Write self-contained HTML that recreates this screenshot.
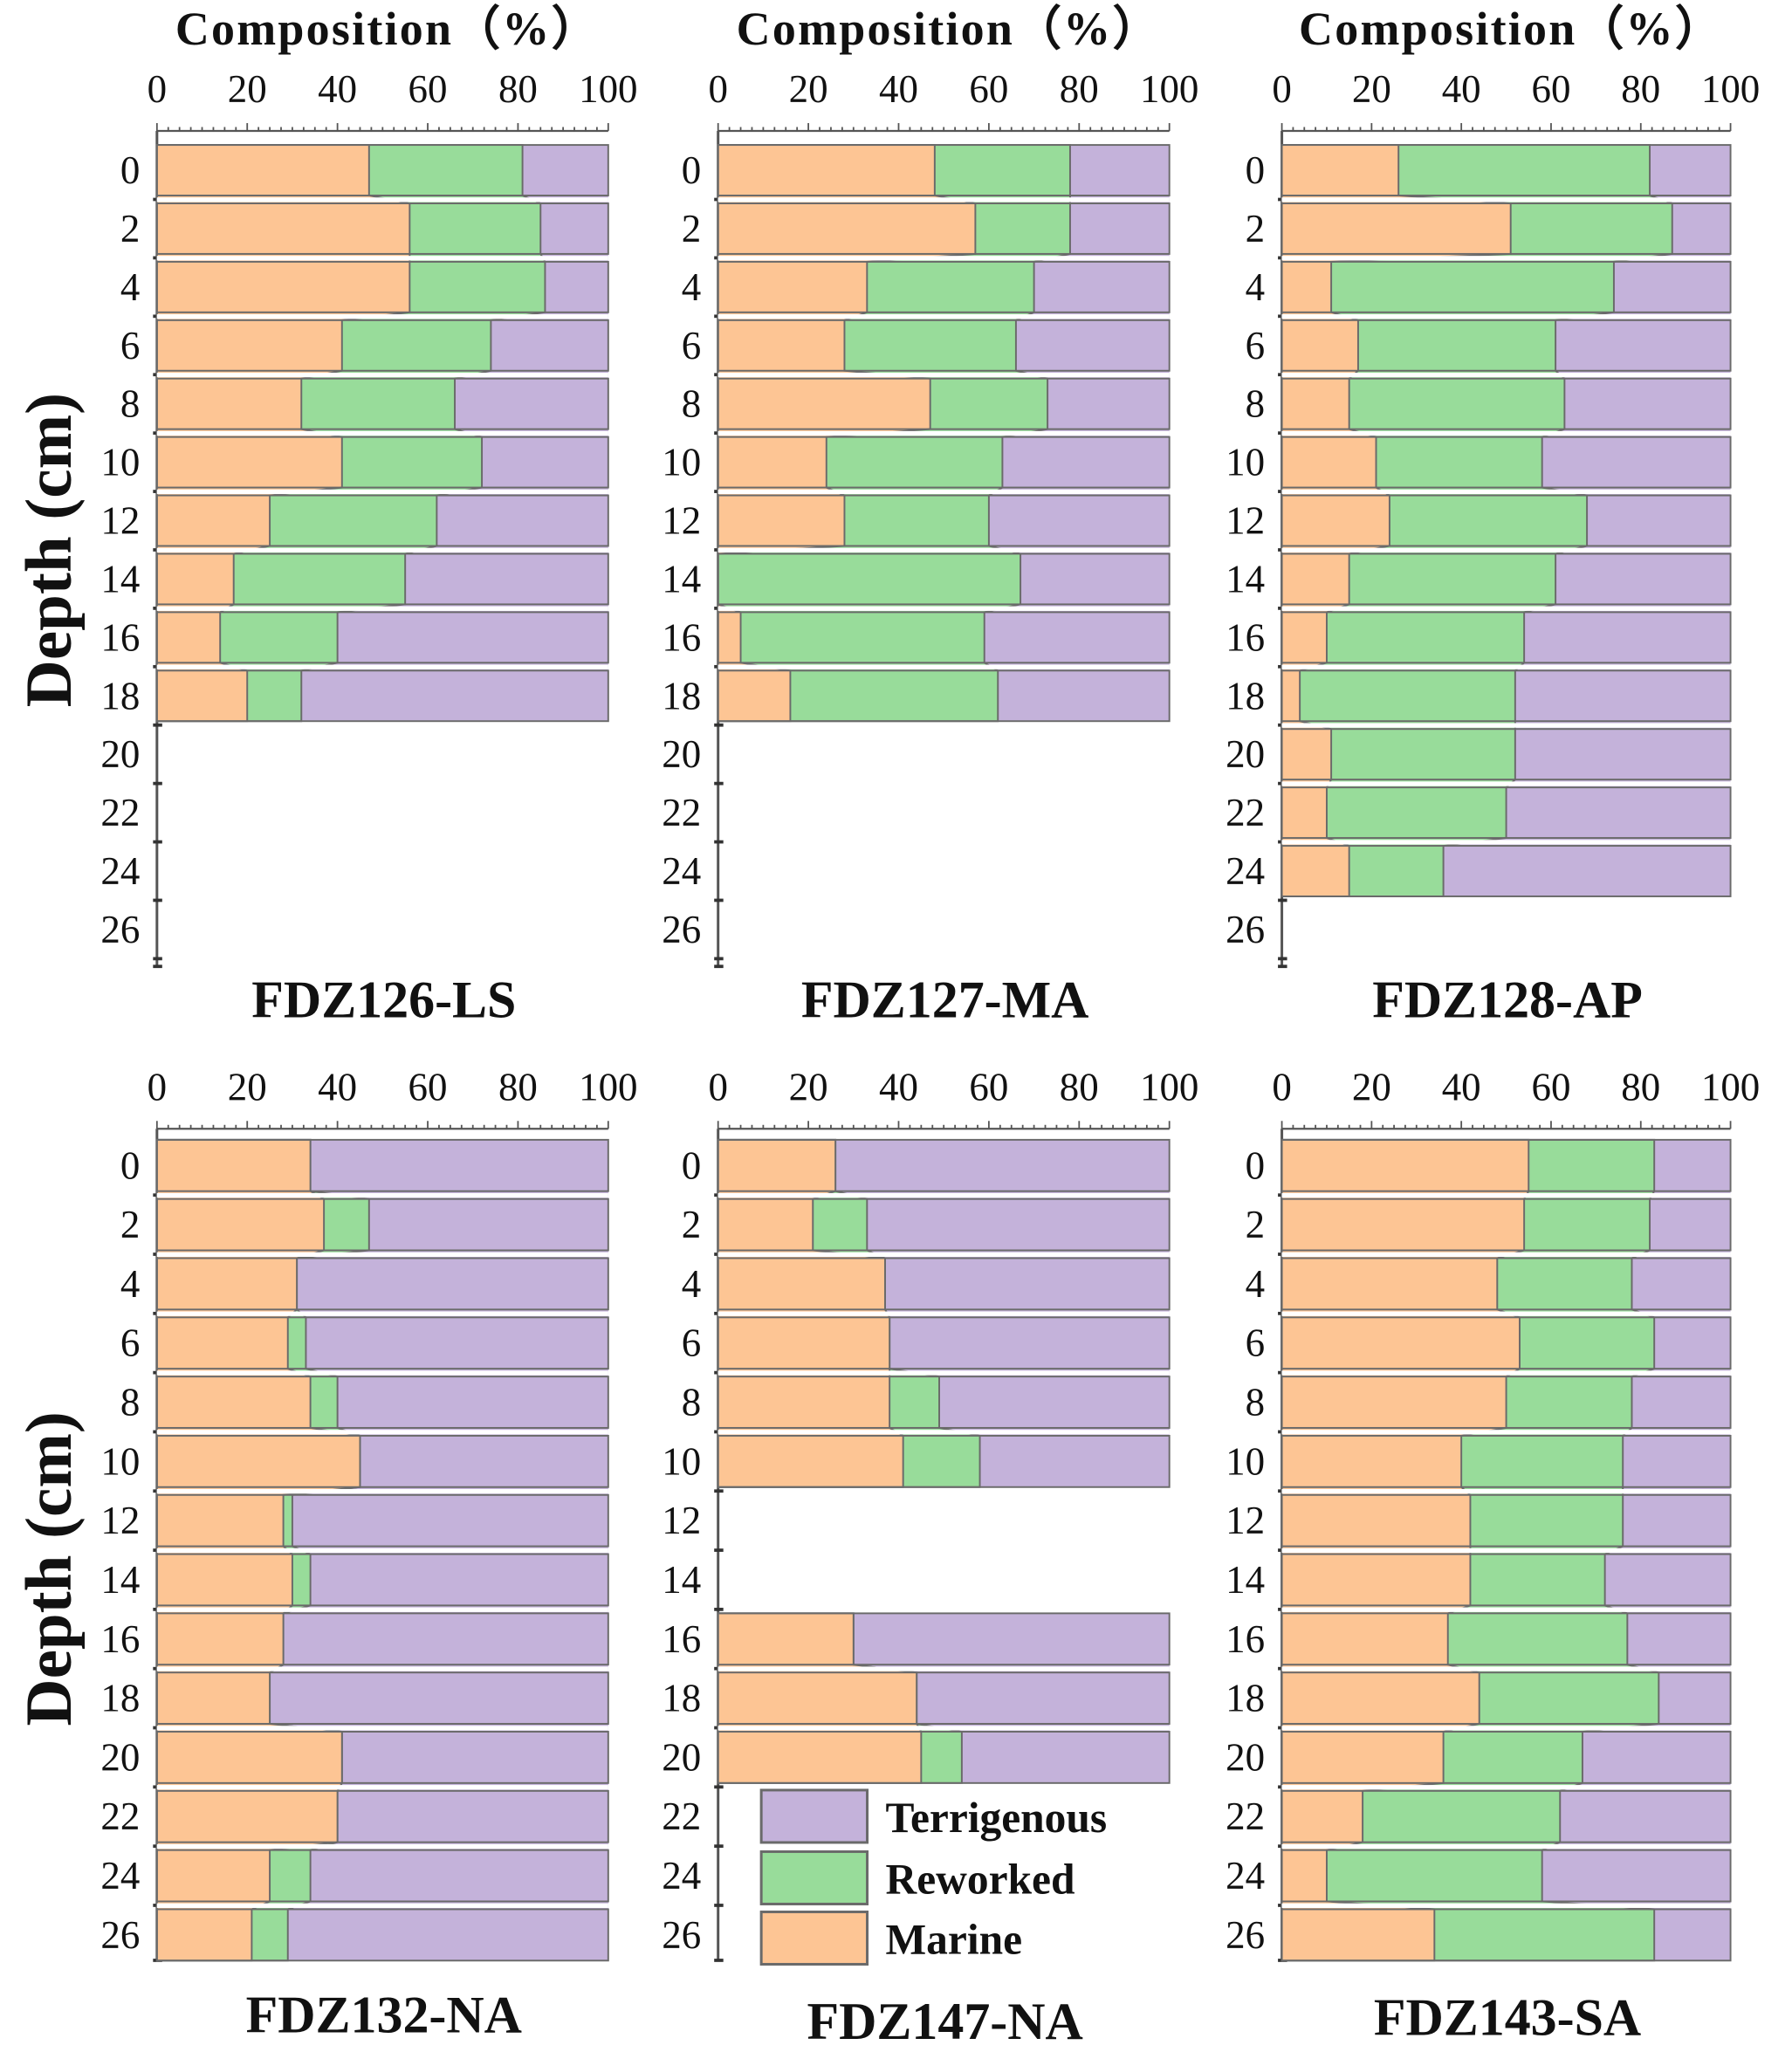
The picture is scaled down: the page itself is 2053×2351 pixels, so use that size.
<!DOCTYPE html>
<html><head><meta charset="utf-8"><style>
html,body{margin:0;padding:0;background:#fff;}
svg{display:block;}
text{font-family:"Liberation Serif",serif;font-weight:bold;fill:#111;}
</style></head><body>
<svg id="s" width="2053" height="2351" viewBox="0 0 1370 1567" preserveAspectRatio="none" xmlns="http://www.w3.org/2000/svg"></svg>
<script>
var S=document.getElementById('s'),out='';
var CM='#fdc594',CR='#98dc9a',CT='#c4b2da',ST='#6a6a6a';
function panel(x0,x1,axY,y0,dy,axEnd,segs,title,titleY,ticksY,showComp){
  var w=x1-x0;function X(p){return x0+p*w/100;}function Y(d){return y0+d*dy;}
  if(showComp) out+='<text x="'+((x0+x1)/2+4)+'" y="34" font-size="36" letter-spacing="1.5" text-anchor="middle">Composition（%）</text>';
  for(var p=0;p<=100;p+=20) out+='<text x="'+X(p)+'" y="'+ticksY+'" font-size="30" style="font-weight:normal" text-anchor="middle">'+p+'</text>';
  out+='<line x1="'+x0+'" y1="'+axY+'" x2="'+x1+'" y2="'+axY+'" stroke="#555" stroke-width="1.5"/>';
  for(var p=0;p<=100;p+=2.5){var big=p%20==0;out+='<line x1="'+X(p)+'" y1="'+axY+'" x2="'+X(p)+'" y2="'+(axY-(big?6:3))+'" stroke="#555" stroke-width="1.2"/>';}
  out+='<line x1="'+x0+'" y1="'+axY+'" x2="'+x0+'" y2="'+axEnd+'" stroke="#555" stroke-width="2"/>';
  for(var d=1;Y(d)<axEnd+2;d+=2) out+='<line x1="'+(x0-3)+'" y1="'+Y(d)+'" x2="'+(x0+4)+'" y2="'+Y(d)+'" stroke="#333" stroke-width="2.5"/>';
  out+='<line x1="'+(x0-3)+'" y1="'+axEnd+'" x2="'+(x0+4)+'" y2="'+axEnd+'" stroke="#333" stroke-width="2.5"/>';
  for(var d=0;d<=26;d+=2) out+='<text x="'+(x0-13)+'" y="'+(Y(d)+10)+'" font-size="30" style="font-weight:normal" text-anchor="end">'+d+'</text>';
  segs.forEach(function(seg){
    var top=Y(seg[0][0]-1)+3,bot=Y(seg[seg.length-1][0]+1)-3;
    out+='<rect x="'+x0+'" y="'+top+'" width="'+w+'" height="'+(bot-top)+'" fill="'+CT+'"/>';
    [[2,CR],[1,CM]].forEach(function(k){
      var pts=[[x0,top]];
      seg.forEach(function(r){pts.push([X(r[k[0]]),Y(r[0]-1)+3]);pts.push([X(r[k[0]]),Y(r[0]+1)-3]);});
      pts.push([x0,bot]);
      out+='<polygon points="'+pts.map(function(a){return a.join(',')}).join(' ')+'" fill="'+k[1]+'" stroke="'+ST+'" stroke-width="1.3"/>';
    });
    seg.forEach(function(r,i){
      var t=Y(r[0]-1)+3,b=Y(r[0]+1)-3;
      if(i>0) out+='<rect x="'+x0+'" y="'+(t-4.5)+'" width="'+w+'" height="3.5" fill="#fff"/>';
      out+='<rect x="'+x0+'" y="'+t+'" width="'+w+'" height="'+(b-t)+'" fill="none" stroke="'+ST+'" stroke-width="1.3"/>';
    });
  });
  out+='<text x="'+((x0+x1)/2+1)+'" y="'+titleY+'" font-size="40" text-anchor="middle">'+title+'</text>';
}
function R(list){return list.map(function(r,i){return [i*2,r[0],r[1]];});}
var p1=R([[47,81],[56,85],[56,86],[41,74],[32,66],[41,72],[25,62],[17,55],[14,40],[20,32]]);
var p2=R([[48,78],[57,78],[33,70],[28,66],[47,73],[24,63],[28,60],[0,67],[5,59],[16,62]]);
var p3=R([[26,82],[51,87],[11,74],[17,61],[15,63],[21,58],[24,68],[15,61],[10,54],[4,52],[11,52],[10,50],[15,36]]);
var p4=R([[34,34],[37,47],[31,31],[29,33],[34,40],[45,45],[28,30],[30,34],[28,28],[25,25],[41,41],[40,40],[25,34],[21,29]]);
var p5a=R([[26,26],[21,33],[37,37],[38,38],[38,49],[41,58]]);
var p5b=[[16,30,30],[18,44,44],[20,45,54]];
var p6=R([[55,83],[54,82],[48,78],[53,83],[50,78],[40,76],[42,76],[42,72],[37,77],[44,84],[36,67],[18,62],[10,58],[34,83]]);
panel(120,465,100,130,22.3,738,[p1],'FDZ126-LS',777,78,true);
panel(549,894,100,130,22.3,738,[p2],'FDZ127-MA',777,78,true);
panel(980,1323,100,130,22.3,738,[p3],'FDZ128-AP',777,78,true);
panel(120,465,862,890,22.6,1497,[p4],'FDZ132-NA',1552,840,false);
panel(549,894,862,890,22.6,1497,[p5a,p5b],'FDZ147-NA',1557,840,false);
panel(980,1323,862,890,22.6,1497,[p6],'FDZ143-SA',1554,840,false);
out+='<text transform="translate(54,420) rotate(-90)" font-size="50" text-anchor="middle">Depth (cm)</text>';
out+='<text transform="translate(54,1198) rotate(-90)" font-size="50" text-anchor="middle">Depth (cm)</text>';
[[CT,'Terrigenous',1367],[CR,'Reworked',1414],[CM,'Marine',1460]].forEach(function(l){
  out+='<rect x="582" y="'+l[2]+'" width="81" height="40" fill="'+l[0]+'" stroke="'+ST+'" stroke-width="2"/>';
  out+='<text x="677" y="'+(l[2]+32)+'" font-size="33">'+l[1]+'</text>';
});
S.innerHTML=out;
</script>
</body></html>
